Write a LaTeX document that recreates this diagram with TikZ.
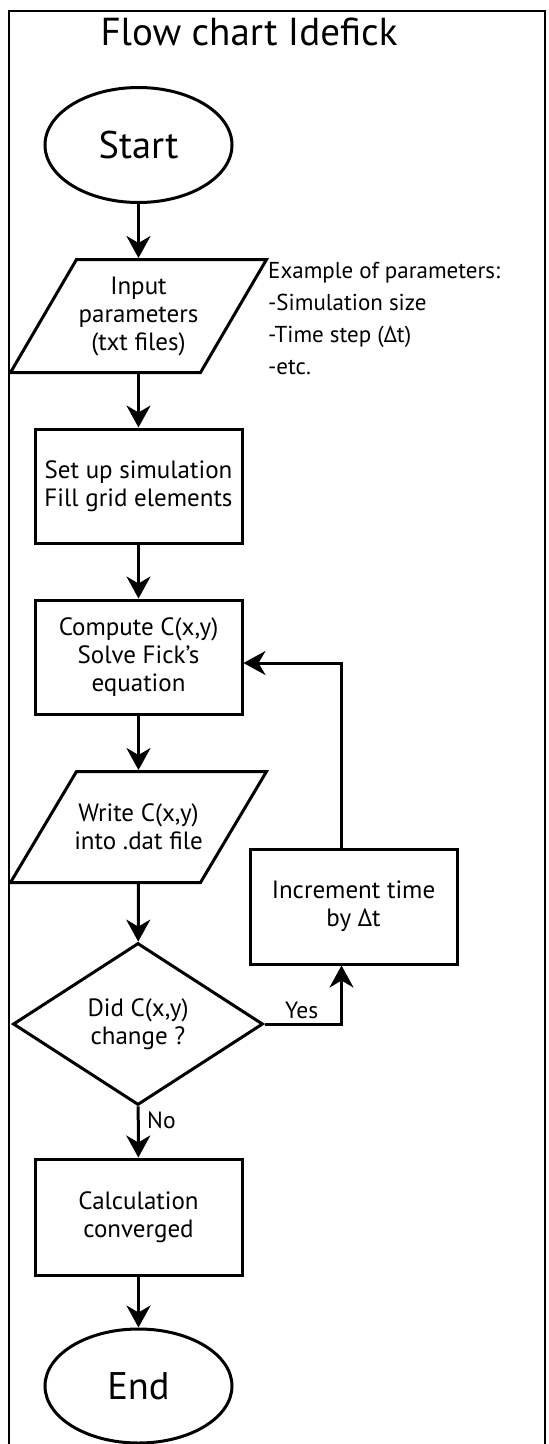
\documentclass[tikz,border=0pt]{standalone}
\usepackage{fontspec}
\setmainfont{PT Sans}
\usetikzlibrary{shapes.geometric,arrows.meta}
\begin{document}
\begin{tikzpicture}[x=1pt,y=-1pt,
  lw/.style={line width=3pt},
  bodyfont/.style={font=\fontsize{25}{28}\selectfont},
  term/.style={ellipse, draw, lw, minimum width=187pt, minimum height=115pt, inner sep=0pt, font=\fontsize{38.5}{40}\selectfont},
  proc/.style={rectangle, draw, lw, minimum width=207pt, minimum height=114pt, inner sep=0pt, align=center, bodyfont},
  iobox/.style={rectangle, minimum width=187pt, minimum height=113pt, inner sep=0pt, outer sep=1.5pt, align=center, bodyfont},
  dec/.style={diamond, draw, lw, minimum width=250pt, minimum height=162pt, inner sep=0pt, align=center, bodyfont},
  flow/.style={lw, -{Stealth[length=22pt,width=24pt,inset=7pt]}},
  lbl/.style={inner sep=0pt, font=\fontsize{23.5}{28}\selectfont},
  note/.style={anchor=base west, inner sep=0pt, font=\fontsize{23}{32}\selectfont}
]
\useasboundingbox (0,0) rectangle (549,1444);
\draw[line width=2pt] (9,11) rectangle (545,1470);

\node[anchor=base, inner sep=0pt, font=\fontsize{39}{42}\selectfont] (title) at (249,45) {Flow chart Idefick};

\node[term] (start) at (138.5,145) {Start};

\node[iobox] (inp) at (138.5,316) {Input\\parameters\\(txt files)};
\draw[lw, line join=miter] ([xshift=33pt,yshift=-1.5pt]inp.north west) -- ([xshift=33pt,yshift=-1.5pt]inp.north east)
  -- ([xshift=-33pt,yshift=1.5pt]inp.south east) -- ([xshift=-33pt,yshift=1.5pt]inp.south west) -- cycle;

\node[note] (n1) at (268,278) {Example of parameters:};
\node[note] (n2) at (268,310) {-Simulation size};
\node[note] (n3) at (268,342) {-Time step (Δt)};
\node[note] (n4) at (268,374) {-etc.};

\node[proc] (setup) at (138.5,486) {Set up simulation\\Fill grid elements};
\node[proc] (comp) at (138.5,657) {Compute C(x,y)\\Solve Fick’s\\equation};

\node[iobox, minimum height=111pt] (wr) at (138.5,827) {Write C(x,y)\\into .dat file};
\draw[lw, line join=miter] ([xshift=33pt,yshift=-1.5pt]wr.north west) -- ([xshift=33pt,yshift=-1.5pt]wr.north east)
  -- ([xshift=-33pt,yshift=1.5pt]wr.south east) -- ([xshift=-33pt,yshift=1.5pt]wr.south west) -- cycle;

\node[dec] (dec) at (138,1024) {Did C(x,y)\\change ?};
\node[proc, minimum height=115pt] (inc) at (353.5,906.5) {Increment time\\by Δt};
\node[proc, minimum height=116pt] (calc) at (138.5,1217) {Calculation\\converged};
\node[term, minimum height=114pt] (end) at (138.5,1386) {End};

\draw[flow] (start) -- (inp);
\draw[flow] (inp) -- (setup);
\draw[flow] (setup) -- (comp);
\draw[flow] (comp) -- (wr);
\draw[flow] (wr) -- (dec);
\draw[flow] (dec) -- (calc);
\draw[flow] (calc) -- (end);
\draw[flow] (dec.east) -| ([xshift=-12pt]inc.south);
\draw[flow] ([xshift=-12pt]inc.north) |- ([yshift=-6pt]comp.east);

\node[lbl, anchor=base west] (yes) at (285,1018) {Yes};
\node[lbl, anchor=base west] (no) at (147,1128) {No};
\end{tikzpicture}
\end{document}
